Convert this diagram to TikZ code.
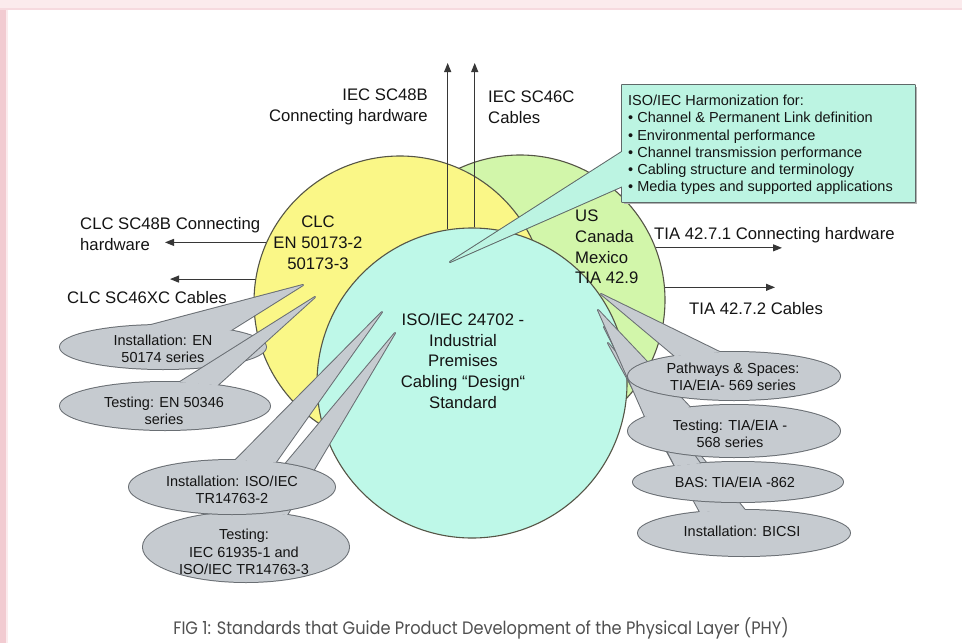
\documentclass[tikz,border=0pt]{standalone}
\usepackage{fontspec}
\setmainfont{Liberation Sans}
\newfontfamily\capfont[FakeStretch=0.9]{Poppins}
\usetikzlibrary{arrows.meta}

\definecolor{yellowC}{RGB}{250,247,135}
\definecolor{greenC}{RGB}{210,246,170}
\definecolor{cyanC}{RGB}{190,248,232}
\definecolor{boxC}{RGB}{188,244,226}
\definecolor{boxLine}{RGB}{95,105,105}
\definecolor{ringC}{RGB}{85,85,70}
\definecolor{ovalFill}{RGB}{198,203,208}
\definecolor{ovalLine}{RGB}{105,110,115}
\definecolor{txtC}{RGB}{20,20,20}
\definecolor{arrC}{RGB}{55,55,55}
\definecolor{capC}{RGB}{80,80,80}
\definecolor{pinkA}{RGB}{251,235,237}
\definecolor{pinkB}{RGB}{246,218,223}
\definecolor{pinkC}{RGB}{242,203,209}

% oval callout: centre, radii, tip, and the two angles where the wedge meets the oval
\newcommand\ovalcallout[8]{%
  \draw[oval edge] (#1,#2) ellipse [x radius=#3, y radius=#4];
  \draw[oval edge] (#5,#6) -- ({#1+#3*cos(#7)},{#2-#4*sin(#7)}) -- ({#1+#3*cos(#8)},{#2-#4*sin(#8)}) -- cycle;
  \fill[ovalFill] (#1,#2) ellipse [x radius=#3, y radius=#4];
  \fill[ovalFill] (#5,#6) -- ({#1+#3*cos(#7)},{#2-#4*sin(#7)}) -- ({#1+#3*cos(#8)},{#2-#4*sin(#8)}) -- cycle;
}

\begin{document}
\begin{tikzpicture}[x=1pt,y=-1pt,
  ring/.style={circle, inner sep=0pt, draw=ringC, line width=1.1pt},
  arr/.style={draw=arrC, line width=1pt, -{Triangle[length=9pt,width=7pt]}},
  lbl/.style={font=\fontsize{16.7}{20.8}\selectfont, text=txtC, inner sep=0pt},
  ovaltxt/.style={font=\fontsize{14.5}{17.5}\selectfont, text=txtC, inner sep=0pt, align=center},
  oval edge/.style={draw=ovalLine, line width=2pt, line join=round},
]
\useasboundingbox (0,0) rectangle (962,643);

% page frame
\fill[white] (0,0) rectangle (962,643);
\fill[pinkA] (0,0) rectangle (962,8);
\fill[pinkB] (0,8) rectangle (962,10);
\fill[pinkC] (0,10) rectangle (6,643);
\fill[pinkA] (6,10) rectangle (8,643);

% the three standards circles
\node[ring, fill=greenC, minimum size=290pt] (tia) at (520,300) {};
\node[ring, fill=yellowC, minimum size=292pt] (clc) at (400,302) {};
\node[ring, fill=cyanC, minimum size=310pt] (iso) at (472,383) {};

% free ends of the arrows
\coordinate (topEnd) at (0,63);
\coordinate (leftEndA) at (165,0);
\coordinate (leftEndB) at (170,0);
\coordinate (rightEndA) at (782,0);
\coordinate (rightEndB) at (775,0);

\draw[arr] (iso.99.7) -- (iso.99.7 |- topEnd);
\draw[arr] (iso.89.6) -- (iso.89.6 |- topEnd);
\draw[arr] (clc.156) -- (clc.156 -| leftEndA);
\draw[arr] (clc.171) -- (clc.171 -| leftEndB);
\draw[arr] (tia.21) -- (tia.21 -| rightEndA);
\draw[arr] (tia.5) -- (tia.5 -| rightEndB);

% harmonization callout box
\fill[black!30] (624,87) rectangle (917,204);
\draw[boxLine, line width=2pt, line join=round] (622,85) rectangle (915,202);
\draw[boxLine, line width=2pt, line join=round] (450,262) -- (625,150) -- (625,185) -- cycle;
\fill[boxC] (622,85) rectangle (915,202);
\fill[boxC] (450,262) -- (625,150) -- (625,185) -- cycle;
\node[font=\fontsize{14.5}{17.2}\selectfont, text=txtC, inner sep=0pt, align=left, anchor=west] (harm) at (628,145)
  {ISO/IEC Harmonization for:\\
   • Channel \& Permanent Link definition\\
   • Environmental performance\\
   • Channel transmission performance\\
   • Cabling structure and terminology\\
   • Media types and supported applications};

% oval callouts, left side
\ovalcallout{163}{347}{103}{22}{303}{285}{97}{49}
\ovalcallout{165}{406}{105}{24}{315}{297}{82}{60}
\ovalcallout{246}{547}{103}{35}{395}{333}{90.5}{66.5}
\ovalcallout{232}{487}{103}{27}{382}{312}{88}{65}

% oval callouts, right side
\ovalcallout{744}{533}{106}{23}{608}{343}{114.5}{89.5}
\ovalcallout{738}{482}{105}{20}{604}{327}{126.9}{111.2}
\ovalcallout{734}{431}{106}{26}{598}{310}{147}{114.5}
\ovalcallout{734}{376}{106}{24}{601}{294}{123.8}{97.6}

\node[ovaltxt] (ovA) at (163,349) {Installation: EN\\50174 series};
\node[ovaltxt] (ovB) at (164,411) {Testing: EN 50346\\series};
\node[ovaltxt] (ovC) at (232,490) {Installation: ISO/IEC\\TR14763-2};
\node[ovaltxt] (ovD) at (244,552) {Testing:\\IEC 61935-1 and\\ISO/IEC TR14763-3};
\node[ovaltxt] (ovE) at (733,377) {Pathways \& Spaces:\\TIA/EIA- 569 series};
\node[ovaltxt] (ovF) at (730,434) {Testing: TIA/EIA -\\568 series};
\node[ovaltxt] (ovG) at (735,482) {BAS: TIA/EIA -862};
\node[ovaltxt] (ovH) at (742,531) {Installation: BICSI};

% circle texts
\node[lbl, align=center] (clcTxt) at (318,243) {CLC\\EN 50173-2\\50173-3};
\node[lbl, align=left, anchor=west] (tiaTxt) at (575,247) {US\\Canada\\Mexico\\TIA 42.9};
\node[lbl, align=center] (isoTxt) at (463,361) {ISO/IEC 24702 -\\Industrial\\Premises\\Cabling “Design“\\Standard};

% arrow labels
\node[lbl, align=right, anchor=east] (iec48) at (428,107) {IEC SC48B\\Connecting hardware};
\node[lbl, align=left, anchor=west] (iec46) at (488,107) {IEC SC46C\\Cables};
\node[lbl, align=left, anchor=west] (clc48) at (80,234) {CLC SC48B Connecting\\hardware};
\node[lbl, anchor=west] (clc46) at (67,298) {CLC SC46XC Cables};
\node[lbl, anchor=west] (tia71) at (654,235) {TIA 42.7.1 Connecting hardware};
\node[lbl, anchor=west] (tia72) at (689,309) {TIA 42.7.2 Cables};

% caption
\node[font=\capfont\fontsize{18}{21}\selectfont, text=capC, inner sep=0pt] (caption) at (481,628)
  {FIG 1: Standards that Guide Product Development of the Physical Layer (PHY)};
\end{tikzpicture}
\end{document}
